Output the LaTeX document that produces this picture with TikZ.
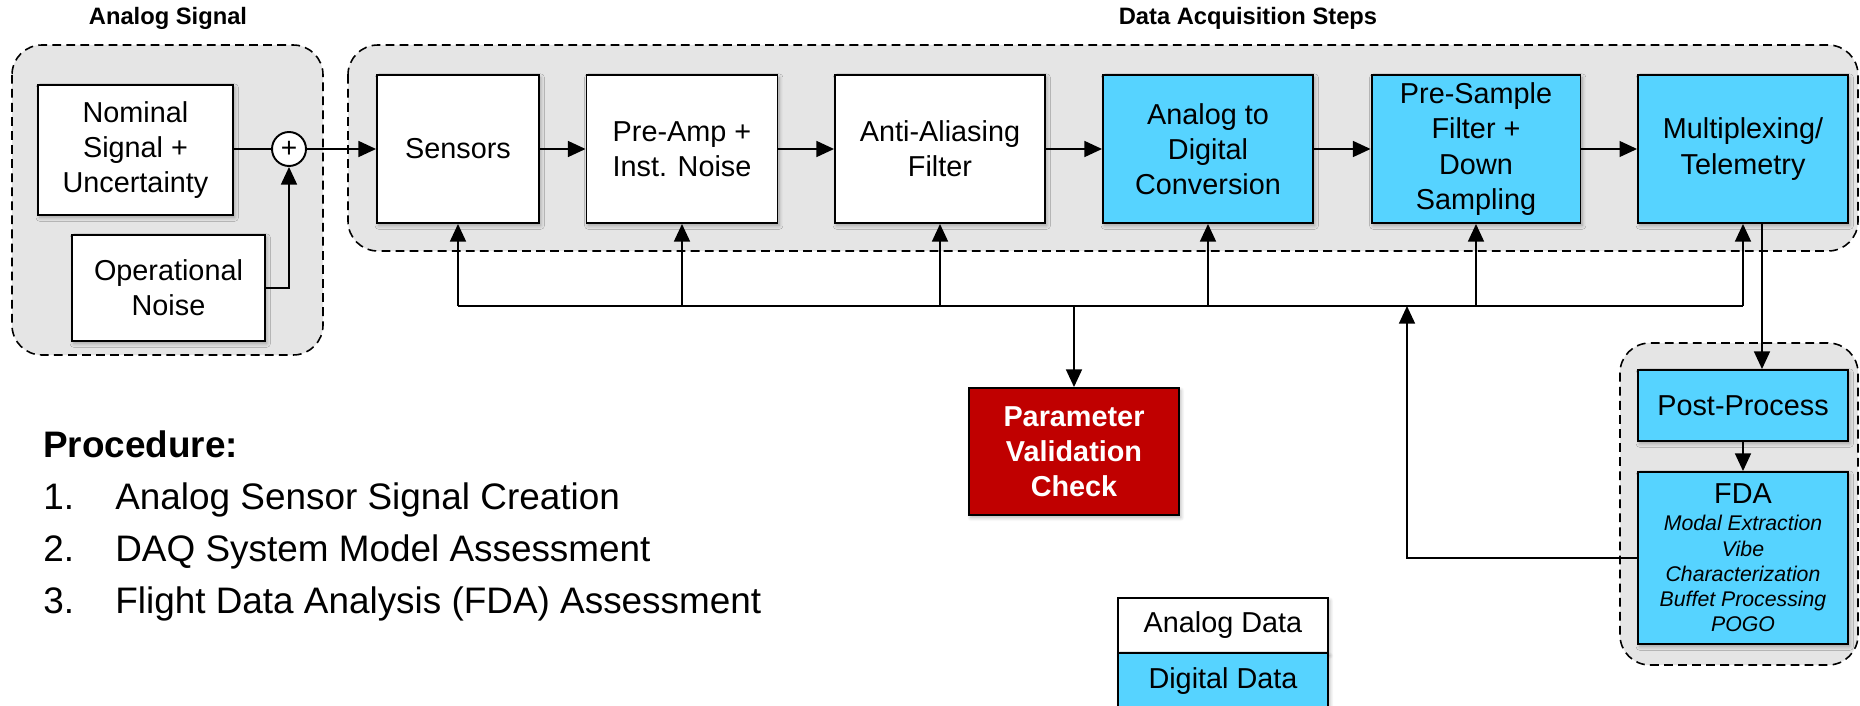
\documentclass[tikz,border=0pt]{standalone}
\usepackage{fontspec}
\setmainfont{Liberation Sans}
\usetikzlibrary{arrows.meta,shadows.blur}
\definecolor{grpfill}{HTML}{E5E5E5}
\definecolor{digi}{HTML}{56D3FF}
\definecolor{pvred}{HTML}{C00000}
\newcommand{\boxfont}{\fontsize{16.4}{20}\selectfont}
\newcommand{\itfont}{\fontsize{12.1}{14.4}\selectfont\itshape}
\tikzset{
  grp/.style={draw, line width=0.9pt, dash pattern=on 5pt off 3pt, fill=grpfill, rounded corners=17pt},
  abox/.style={draw, line width=1.1pt, fill=white, font=\boxfont, align=center, inner sep=0pt,
    blur shadow={shadow xshift=1pt, shadow yshift=-1.5pt, shadow blur steps=6, shadow opacity=30}},
  dbox/.style={abox, fill=digi},
  rbox/.style={abox, fill=pvred, text=white, font=\boxfont\bfseries},
  sz/.style 2 args={minimum width=#1cm, minimum height=#2cm},
  ln/.style={line width=1.1pt},
  arr/.style={line width=1.1pt, -{Triangle[length=10pt,width=9pt]}},
  ttl/.style={font=\fontsize{13.5}{16}\selectfont\bfseries, anchor=base},
  proc/.style={font=\fontsize{21}{25}\selectfont, anchor=base west, inner sep=0pt}
}
\begin{document}
\begin{tikzpicture}[x=0.02cm, y=-0.02cm]
\useasboundingbox (0,0) rectangle (1860,706);
% titles
\node[ttl] (t1) at (168,25) {Analog Signal};
\node[ttl] (t2) at (1248,25) {Data Acquisition Steps};
% groups
\path[grp] (12,45) rectangle (323,355);
\path[grp] (348,45) rectangle (1858,251);
\path[grp] (1620,343) rectangle (1858,665);
% analog signal
\node[abox, sz={3.9}{2.6}] (nom) at (135.5,150) {Nominal\\Signal +\\Uncertainty};
\node[abox, sz={3.86}{2.12}] (opn) at (168.5,288) {Operational\\Noise};
\node[draw, circle, line width=1.1pt, fill=white, minimum size=0.68cm, inner sep=0pt, font=\fontsize{16}{16}\selectfont] (sum) at (289,149) {+};
% chain
\node[abox, sz={3.24}{2.96}] (sens) at (458,149) {Sensors};
\node[abox, sz={3.82}{2.96}] (pre) at (682,149) {Pre-Amp +\\Inst. Noise};
\node[abox, sz={4.2}{2.96}] (aaf) at (940,149) {Anti-Aliasing\\Filter};
\node[dbox, sz={4.2}{2.96}] (adc) at (1208,149) {Analog to\\Digital\\Conversion};
\node[dbox, sz={4.18}{2.96}] (psf) at (1476,149) {Pre-Sample\\Filter +\\Down\\Sampling};
\node[dbox, sz={4.2}{2.96}] (mux) at (1743,149) {Multiplexing/\\Telemetry};
% post-processing
\node[dbox, sz={4.2}{1.42}] (post) at (1743,405.5) {Post-Process};
\node[dbox, sz={4.2}{3.44}, font=\itfont] (fda) at (1743,558) {{\boxfont\upshape FDA}\\[1pt]Modal Extraction\\Vibe\\Characterization\\Buffet Processing\\POGO};
% parameter check
\node[rbox, sz={4.2}{2.54}] (pvc) at (1074,451.5) {Parameter\\Validation\\Check};
% legend
\node[abox, sz={4.2}{1.1}] (leg1) at (1223,625.5) {Analog Data};
\node[dbox, sz={4.2}{1.12}] (leg2) at (1223,681) {Digital Data};
% procedure
\node[proc, font=\fontsize{21}{25}\selectfont\bfseries] (ph) at (43,457) {Procedure:};
\node[proc] (n1) at (43,509) {1.};
\node[proc] (p1) at (115,509) {Analog Sensor Signal Creation};
\node[proc] (n2) at (43,561) {2.};
\node[proc] (p2) at (115,561) {DAQ System Model Assessment};
\node[proc] (n3) at (43,613) {3.};
\node[proc] (p3) at (115,613) {Flight Data Analysis (FDA) Assessment};
% connectors
\draw[ln] (nom.east |- sum) -- (sum.west);
\draw[arr] (opn.east) -| (sum.south);
\draw[arr] (sum.east) -- (sens.west |- sum);
\draw[arr] (sens.east) -- (pre.west);
\draw[arr] (pre.east) -- (aaf.west);
\draw[arr] (aaf.east) -- (adc.west);
\draw[arr] (adc.east) -- (psf.west);
\draw[arr] (psf.east) -- (mux.west);
% bus
\coordinate (busL) at (458,306);
\coordinate (busR) at (1743,306);
\coordinate (busP) at (1074,306);
\coordinate (fb) at (1407,306);
\coordinate (mo) at (1762,0);
\draw[ln] (busL) -- (busR);
\draw[arr] (busL) -- (sens.south);
\draw[arr] (pre.south |- busL) -- (pre.south);
\draw[arr] (aaf.south |- busL) -- (aaf.south);
\draw[arr] (adc.south |- busL) -- (adc.south);
\draw[arr] (psf.south |- busL) -- (psf.south);
\draw[arr] (busR) -- (mux.south);
\draw[arr] (busP) -- (pvc.north);
\draw[arr] (mux.south -| mo) -- (post.north -| mo);
\draw[arr] (post.south) -- (fda.north);
\draw[arr] (fda.west) -| (fb);
\end{tikzpicture}
\end{document}
